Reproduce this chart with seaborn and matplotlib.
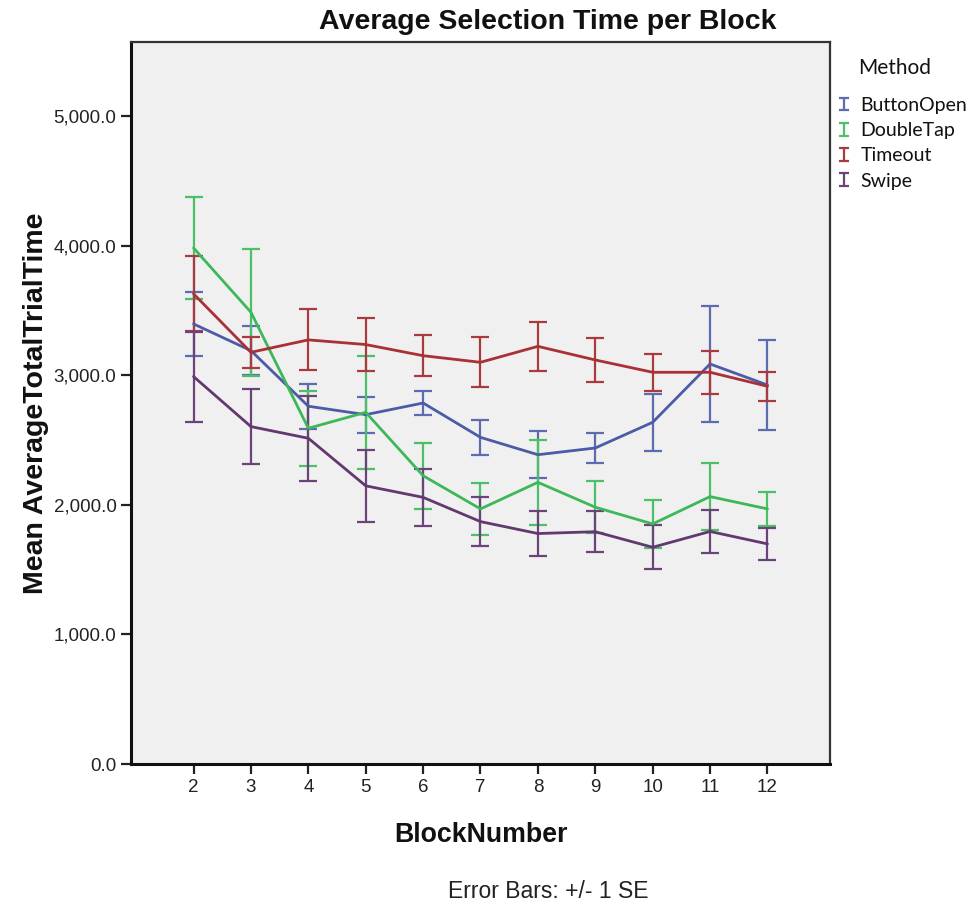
import numpy as np
import pandas as pd
import matplotlib
matplotlib.use("Agg")
import matplotlib.pyplot as plt
from matplotlib.ticker import FuncFormatter
from matplotlib.container import ErrorbarContainer
from matplotlib.legend_handler import HandlerErrorbar
from matplotlib.lines import Line2D
import seaborn as sns

# ---------------- data ----------------
blocks = [2, 3, 4, 5, 6, 7, 8, 9, 10, 11, 12]
methods = ["ButtonOpen", "DoubleTap", "Timeout", "Swipe"]

button_mean = [3395, 3189, 2760, 2695, 2785, 2520, 2386, 2438, 2636, 3086, 2924]
button_se = [250, 190, 172, 140, 90, 137, 183, 113, 219, 448, 347]

double_mean = [3981, 3485, 2590, 2713, 2224, 1968, 2173, 1981, 1852, 2063, 1968]
double_se = [391, 490, 288, 435, 253, 203, 327, 200, 186, 257, 130]

timeout_mean = [3627, 3176, 3272, 3236, 3150, 3099, 3222, 3117, 3022, 3022, 2914]
timeout_se = [290, 120, 235, 206, 160, 193, 191, 172, 142, 165, 113]

swipe_mean = [2989, 2603, 2513, 2146, 2057, 1870, 1778, 1792, 1672, 1794, 1698]
swipe_se = [347, 290, 327, 277, 218, 190, 170, 156, 170, 165, 126]

y_ticks = [0, 1000, 2000, 3000, 4000, 5000]

means = {"ButtonOpen": button_mean, "DoubleTap": double_mean,
         "Timeout": timeout_mean, "Swipe": swipe_mean}
ses = {"ButtonOpen": button_se, "DoubleTap": double_se,
       "Timeout": timeout_se, "Swipe": swipe_se}

df = pd.DataFrame(
    [(m, b, means[m][i], ses[m][i]) for m in methods for i, b in enumerate(blocks)],
    columns=["Method", "BlockNumber", "Mean", "SE"],
)

line_colors = {"ButtonOpen": "#4B5BA6", "DoubleTap": "#3DB858",
               "Timeout": "#A93035", "Swipe": "#62386F"}
bar_colors = {"ButtonOpen": "#5D6BB0", "DoubleTap": "#4CC066",
              "Timeout": "#A93A40", "Swipe": "#6A4478"}

# ---------------- style ----------------
sns.set_style("white", {"axes.facecolor": "#F0F0F0"})
plt.rcParams["font.family"] = ["Liberation Sans", "DejaVu Sans"]

fig = plt.figure(figsize=(9.7, 9.05), dpi=100)
ax = fig.add_axes([131 / 970, 1 - 764 / 905, (830 - 131) / 970, (764 - 42) / 905])
ax.set_facecolor("#F0F0F0")

sns.lineplot(data=df, x="BlockNumber", y="Mean", hue="Method", hue_order=methods,
             palette=line_colors, errorbar=None, legend=False, linewidth=2.0,
             ax=ax, zorder=3)

handles = []
for m in methods:
    sub = df[df["Method"] == m]
    h = ax.errorbar(sub["BlockNumber"], sub["Mean"], yerr=sub["SE"], fmt="none",
                    ecolor=bar_colors[m], elinewidth=1.6, capsize=6.5,
                    capthick=1.6, zorder=2, label=m)
    handles.append(h)

ax.set_xlim(0.91, 13.09)
ax.set_ylim(0, 5570)
ax.set_xticks(blocks)
ax.set_xticklabels([str(b) for b in blocks])
ax.set_yticks(y_ticks)
ax.yaxis.set_major_formatter(FuncFormatter(lambda v, p: f"{v:,.1f}"))
ax.tick_params(axis="both", which="major", direction="out", length=7.5, width=1.6,
               color="#222222", labelsize=13.5, labelcolor="#222222", pad=3,
               left=True, bottom=True)

for side, sp in ax.spines.items():
    sp.set_visible(True)
    sp.set_color("#333333")
    sp.set_linewidth(1.6)
ax.spines["left"].set_color("#111111")
ax.spines["bottom"].set_color("#111111")
ax.spines["left"].set_linewidth(2.2)
ax.spines["bottom"].set_linewidth(2.2)

ax.set_xlabel("")
ax.set_ylabel("Mean AverageTotalTrialTime", fontsize=20.5, fontweight="bold",
              color="#111111")
ax.yaxis.set_label_coords((36 - 131) / 699, 0.5)
ax.yaxis.label.set_va("center")

fig.text(481 / 970, 1 - 835 / 905, "BlockNumber", ha="center", va="center",
         fontsize=19.3, fontweight="bold", color="#111111")
fig.text(548 / 970, 1 - 22 / 905, "Average Selection Time per Block",
         ha="center", va="center", fontsize=20.5, fontweight="bold",
         color="#111111")
fig.text(548 / 970, 1 - 891 / 905, "Error Bars: +/- 1 SE", ha="center",
         va="center", fontsize=16.5, color="#222222")

# legend
fig.text(858 / 970, 1 - 68 / 905, "Method", ha="left", va="center",
         fontsize=15, family=["Lato", "DejaVu Sans"], color="#111111")


def _small_caps(legend_handle, orig_handle):
    legend_handle.update_from(orig_handle)
    if isinstance(legend_handle, Line2D):
        legend_handle.set_markersize(7)


leg = fig.legend(handles=handles, labels=methods,
                 loc="upper left", bbox_to_anchor=(839 / 970, 1 - 97 / 905),
                 frameon=False, handlelength=0.5, handletextpad=0.6,
                 labelspacing=0.42, borderaxespad=0, borderpad=0,
                 handler_map={ErrorbarContainer: HandlerErrorbar(
                     yerr_size=0.32, update_func=_small_caps)},
                 prop={"family": ["Lato", "DejaVu Sans"], "size": 14})
for t in leg.get_texts():
    t.set_color("#111111")

fig.savefig("out.png", dpi=100, facecolor="white")
